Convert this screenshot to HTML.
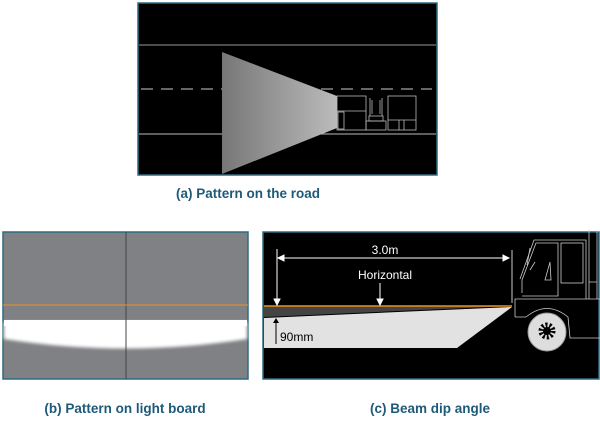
<!DOCTYPE html>
<html><head><style>
body{margin:0;width:600px;height:419px;background:#fff;overflow:hidden}
text{font-family:"Liberation Sans",sans-serif}
.cap{font-weight:bold;fill:#1e5a78;font-size:13.5px}
</style></head><body>
<svg width="600" height="419" viewBox="0 0 600 419">
<defs>
<linearGradient id="bg" x1="0" x2="1"><stop offset="0" stop-color="#777"/><stop offset="1" stop-color="#bbb"/></linearGradient>
<filter id="bl"><feGaussianBlur stdDeviation="1.5"/></filter>
</defs>
<!-- (a) -->
<rect x="138" y="3" width="299" height="172" fill="#000" stroke="#2f6b80" stroke-width="1.5"/>
<line x1="139" y1="45" x2="436" y2="45" stroke="#999" stroke-width="1"/>
<line x1="139" y1="134" x2="436" y2="134" stroke="#bbb" stroke-width="1"/>
<line x1="141" y1="89" x2="432" y2="89" stroke="#ccc" stroke-width="1" stroke-dasharray="12,8"/>
<polygon points="222,52 337,96 337,128 222,174" fill="url(#bg)"/>
<g fill="none" stroke="#bbb" stroke-width="0.8">
<rect x="337" y="96" width="29" height="34"/><line x1="337" y1="111" x2="366" y2="111"/><rect x="338" y="112" width="6" height="17"/>
<rect x="366" y="121" width="20" height="9"/><rect x="369" y="116" width="14" height="5"/><line x1="370" y1="98" x2="370" y2="116"/><line x1="382" y1="98" x2="382" y2="116"/><line x1="372" y1="100" x2="372" y2="114"/><line x1="380" y1="100" x2="380" y2="114"/>
<rect x="388" y="96" width="28" height="34"/><line x1="388" y1="120" x2="416" y2="120"/><line x1="399" y1="120" x2="399" y2="130"/><line x1="404" y1="120" x2="404" y2="130"/>
</g>
<text class="cap" x="248" y="198" text-anchor="middle">(a) Pattern on the road</text>
<!-- (b) -->
<rect x="3" y="232" width="245" height="147" fill="#808185" stroke="#2f6b80" stroke-width="1.5"/>
<path d="M4,322 L247,322 L247,339 Q125,358 4,339 Z" fill="#fff" filter="url(#bl)"/>
<rect x="4" y="320" width="243" height="6" fill="#fff"/>
<line x1="126" y1="232" x2="126" y2="379" stroke="#444" stroke-width="1"/>
<line x1="3" y1="305" x2="248" y2="305" stroke="#e8921e" stroke-width="1"/>
<text class="cap" x="125" y="413" text-anchor="middle">(b) Pattern on light board</text>
<!-- (c) -->
<rect x="263" y="232" width="336" height="147" fill="#000" stroke="#2f6b80" stroke-width="1.5"/>
<polygon points="264,306 512,306 264,317" fill="#444"/>
<polygon points="264,318 512,307 457,348 264,348" fill="#e2e2e2"/>
<line x1="264" y1="306" x2="512" y2="306" stroke="#e8921e" stroke-width="1.5"/>
<g stroke="#fff" stroke-width="1" fill="#fff">
<line x1="279" y1="258" x2="507" y2="258"/><polygon points="278,258 284,255 284,261"/><polygon points="509,258 503,255 503,261"/>
<line x1="277" y1="249" x2="277" y2="301"/><polygon points="277,305 274,299 280,299"/>
<line x1="380" y1="283" x2="380" y2="301"/><polygon points="380,305 377,299 383,299"/>
<line x1="276" y1="322" x2="276" y2="344" stroke="#000"/><polygon points="276,318 273,323 279,323" fill="#000" stroke="none"/>
<line x1="512" y1="250" x2="512" y2="303" stroke="#ccc"/>
</g>
<text x="385" y="254" fill="#fff" font-size="12" text-anchor="middle">3.0m</text>
<text x="385" y="279" fill="#fff" font-size="12" text-anchor="middle">Horizontal</text>
<text x="280" y="341" fill="#000" font-size="12">90mm</text>
<g fill="none" stroke="#ccc" stroke-width="0.8">
<path d="M515,317 L515,299 L600,299"/><path d="M515,317 L526,317 Q547,300 568,317 L570,338 L600,338"/>
<path d="M520,279 L534,240 L586,240 L586,299"/><path d="M522,293 L522,280 L536,243 L558,243 L558,296 L522,296"/>
<rect x="561" y="243" width="22" height="40"/><path d="M589,230 L589,299 M597,230 L597,299 M589,282 L597,282"/>
<path d="M527,265 L530,248 M530,270 L535,262"/><path d="M545,280 L550,262 L551,280 Z"/>
</g>
<circle cx="547" cy="332" r="19" fill="#ddd" stroke="#999"/>
<circle cx="547" cy="331" r="6" fill="none" stroke="#000" stroke-width="5" stroke-dasharray="2,1.8"/>
<circle cx="547" cy="331" r="4" fill="#000"/>
<text class="cap" x="430" y="413" text-anchor="middle">(c) Beam dip angle</text>
</svg>
</body></html>
